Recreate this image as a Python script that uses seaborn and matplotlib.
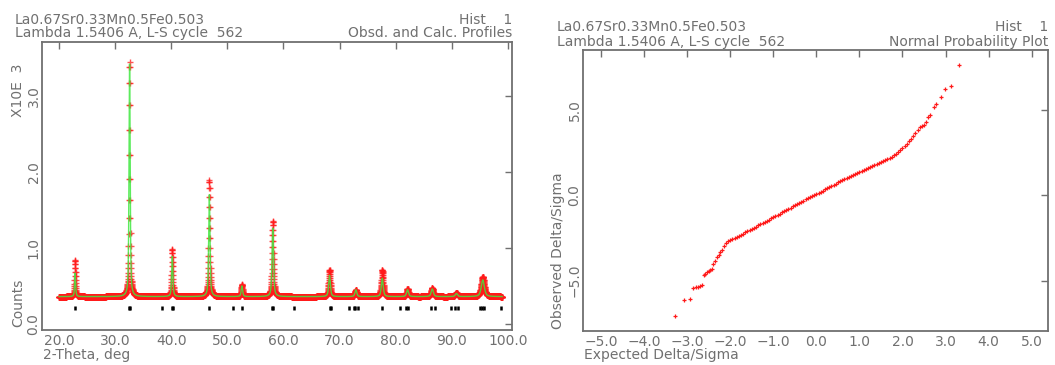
import numpy as np
import pandas as pd
import matplotlib
matplotlib.use("Agg")
import matplotlib.pyplot as plt
import seaborn as sns

# ---------------- data ----------------
title_line1 = "La0.67Sr0.33Mn0.5Fe0.503"
title_line2 = "Lambda 1.5406 A, L-S cycle  562"
hist_label = "Hist    1"
left_title = "Obsd. and Calc. Profiles"
right_title = "Normal Probability Plot"

# diffraction pattern, counts in units of 10^3
two_theta_start, two_theta_stop, two_theta_step = 20.0, 99.0, 0.02
background = 0.36
peak_pos = [22.9, 32.6, 40.2, 46.8, 52.6, 58.1, 68.2, 72.9, 77.6, 82.1, 86.5, 90.8, 95.5]
peak_top_obs = [0.84, 3.45, 0.98, 1.89, 0.52, 1.35, 0.71, 0.45, 0.71, 0.46, 0.47, 0.41, 0.62]
peak_top_calc = [0.67, 3.42, 0.89, 1.70, 0.50, 1.26, 0.64, 0.45, 0.60, 0.45, 0.46, 0.40, 0.58]
peak_fwhm = [0.22, 0.24, 0.26, 0.28, 0.30, 0.32, 0.36, 0.38, 0.40, 0.42, 0.46, 0.48, 0.65]
reflections = [22.9, 32.5, 32.7, 38.3, 40.2, 40.4, 46.7, 51.1, 52.6, 57.9, 58.2, 61.9,
               68.2, 68.4, 71.7, 72.5, 72.8, 73.2, 77.5, 80.8, 81.8, 82.2, 86.2, 87.0,
               89.8, 90.6, 91.1, 95.0, 95.3, 95.7, 98.8]
reflection_level = 0.215

# normal probability plot
tail_low_exp = [-3.28, -3.07, -2.93, -2.86, -2.80, -2.75, -2.70, -2.66, -2.62, -2.58, -2.54,
                -2.50, -2.46, -2.43, -2.39, -2.35, -2.31, -2.27, -2.23, -2.20, -2.15, -2.10,
                -2.05]
tail_low_obs = [-7.05, -6.13, -6.09, -5.45, -5.40, -5.35, -5.32, -5.28, -4.67, -4.60, -4.52,
                -4.45, -4.40, -4.30, -4.05, -3.85, -3.62, -3.48, -3.35, -3.22, -3.00, -2.80,
                -2.70]
middle_exp = [-2.00, -1.95, -1.90, -1.85, -1.80, -1.75, -1.70, -1.65, -1.60, -1.55, -1.50,
              -1.45, -1.40, -1.35, -1.30, -1.25, -1.20, -1.15, -1.10, -1.05, -1.00, -0.95,
              -0.90, -0.85, -0.80, -0.75, -0.70, -0.65, -0.60, -0.55, -0.50, -0.45, -0.40,
              -0.35, -0.30, -0.25, -0.20, -0.15, -0.10, -0.05, 0.00, 0.05, 0.10, 0.15,
              0.20, 0.25, 0.30, 0.35, 0.40, 0.45, 0.50, 0.55, 0.60, 0.65, 0.70, 0.75, 0.80,
              0.85, 0.90, 0.95, 1.00, 1.05, 1.10, 1.15, 1.20, 1.25, 1.30, 1.35, 1.40, 1.45,
              1.50, 1.55, 1.60, 1.65, 1.70, 1.75, 1.80, 1.85, 1.90, 1.95, 2.00, 2.05, 2.10,
              2.15, 2.20, 2.25, 2.30, 2.35]
middle_obs = [-2.62, -2.56, -2.50, -2.44, -2.38, -2.31, -2.25, -2.18, -2.12, -2.05, -1.98,
              -1.91, -1.84, -1.77, -1.70, -1.63, -1.56, -1.49, -1.42, -1.35, -1.28, -1.21,
              -1.14, -1.07, -1.00, -0.93, -0.86, -0.79, -0.72, -0.65, -0.58, -0.51, -0.44,
              -0.37, -0.31, -0.24, -0.18, -0.11, -0.05, 0.02, 0.08, 0.15, 0.21, 0.28,
              0.34, 0.41, 0.47, 0.55, 0.62, 0.68, 0.75, 0.81, 0.88, 0.94, 1.01, 1.07, 1.13,
              1.19, 1.25, 1.31, 1.37, 1.43, 1.49, 1.55, 1.60, 1.66, 1.72, 1.77, 1.83, 1.89,
              1.95, 2.00, 2.06, 2.13, 2.20, 2.27, 2.35, 2.43, 2.52, 2.63, 2.75, 2.88, 3.02,
              3.16, 3.30, 3.46, 3.62, 3.80]
tail_high_exp = [2.40, 2.45, 2.50, 2.55, 2.60, 2.65, 2.73, 2.79, 2.89, 2.99, 3.12, 3.32]
tail_high_obs = [3.98, 4.08, 4.12, 4.31, 4.60, 4.70, 5.19, 5.35, 5.78, 6.22, 6.40, 7.63]

left_xticks = [20, 30, 40, 50, 60, 70, 80, 90, 100]
left_yticks = [0, 1, 2, 3]
right_xticks = [-5, -4, -3, -2, -1, 0, 1, 2, 3, 4, 5]
right_yticks = [-5, 0, 5]

# ---------------- build profiles ----------------
tt = np.arange(two_theta_start, two_theta_stop, two_theta_step)


def profile(tops):
    y = np.full_like(tt, background)
    for p, h, w in zip(peak_pos, tops, peak_fwhm):
        d = (tt - p) / w
        shape = 0.6 / (1 + 4 * d ** 2) + 0.4 * np.exp(-4 * np.log(2) * d ** 2)
        y += (h - background) * shape
    return y


df_prof = pd.DataFrame({"tt": tt, "obs": profile(peak_top_obs), "calc": profile(peak_top_calc)})
df_refl = pd.DataFrame({"tt": reflections, "y": [reflection_level] * len(reflections)})
df_npp = pd.DataFrame({"exp": tail_low_exp + middle_exp + tail_high_exp,
                       "obs": tail_low_obs + middle_obs + tail_high_obs})

# ---------------- style ----------------
sns.set_theme(style="white")
gray = "#707070"
plt.rcParams["font.family"] = ["DejaVu Sans"]
plt.rcParams["text.color"] = gray
plt.rcParams["axes.edgecolor"] = gray
plt.rcParams["xtick.color"] = gray
plt.rcParams["ytick.color"] = gray
fs = 10

fig = plt.figure(figsize=(10.55, 3.65), dpi=100)
W, H = 1055, 365


def axes_px(l, t, r, b):
    return fig.add_axes([l / W, 1 - b / H, (r - l) / W, (b - t) / H])


axL = axes_px(42, 42, 512, 330)
axR = axes_px(583, 50, 1048, 331)

# left: profiles
sns.scatterplot(data=df_prof, x="tt", y="obs", ax=axL, marker="+", color="#ff1a1a",
                s=20, linewidth=1.0, alpha=0.75, legend=False, zorder=2)
sns.lineplot(data=df_prof, x="tt", y="calc", ax=axL, color="#40e840", lw=1.0, alpha=0.85,
             estimator=None, sort=False, legend=False, zorder=3)
sns.scatterplot(data=df_refl, x="tt", y="y", ax=axL, marker="|", color="black",
                s=7, linewidth=1.8, legend=False, zorder=4)
axL.set_xlim(17.0, 100.7)
axL.set_ylim(-0.079, 3.71)

# right: normal probability plot
sns.scatterplot(data=df_npp, x="exp", y="obs", ax=axR, marker="+", color="#ff1a1a",
                s=11, linewidth=0.9, legend=False, zorder=2)
axR.set_xlim(-5.42, 5.38)
axR.set_ylim(-7.95, 8.51)

for ax in (axL, axR):
    ax.set_xlabel("")
    ax.set_ylabel("")
    for sp in ax.spines.values():
        sp.set_visible(True)
        sp.set_color(gray)
        sp.set_linewidth(1.3)
    ax.tick_params(direction="in", length=5, width=1.0, top=True, right=True,
                   labelsize=fs, colors=gray)
    ax.tick_params(axis="x", pad=3)
    ax.tick_params(axis="y", pad=1)

axL.set_xticks(left_xticks)
axL.set_xticklabels([f"{v:.1f}" for v in left_xticks])
axL.set_yticks(left_yticks)
axL.set_yticklabels([f"{v:.1f}" for v in left_yticks])
axR.set_xticks(right_xticks)
axR.set_xticklabels([f"{v:.1f}".replace("-", "\u2212") for v in right_xticks])
axR.set_yticks(right_yticks)
axR.set_yticklabels([f"{v:.1f}".replace("-", "\u2212") for v in right_yticks])

for ax in (axL, axR):
    for lab in ax.get_yticklabels():
        lab.set_rotation(90)
        lab.set_va("center")
        lab.set_ha("right")
        lab.set_rotation_mode("default")

# header texts
def t(x, y, s, ha="left", **kw):
    fig.text(x / W, 1 - y / H, s, ha=ha, va="center", fontsize=fs, color=gray, **kw)

t(15, 20, title_line1)
t(15, 33, title_line2)
t(512, 20, hist_label, ha="right")
t(512, 33, left_title, ha="right")
t(557, 27, title_line1)
t(557, 42, title_line2)
t(1048, 27, hist_label, ha="right")
t(1048, 42, right_title, ha="right")

# axis labels
t(43, 355, "2-Theta, deg")
t(584, 355, "Expected Delta/Sigma")
fig.text(18 / W, 1 - 90 / H, "X10E  3", rotation=90, ha="center", va="center", fontsize=fs, color=gray)
fig.text(18 / W, 1 - 327 / H, "Counts", rotation=90, ha="center", va="bottom", fontsize=fs, color=gray)
fig.text(558 / W, 1 - 329 / H, "Observed Delta/Sigma", rotation=90, ha="center", va="bottom",
         fontsize=fs, color=gray)

fig.savefig("out.png", dpi=100)
